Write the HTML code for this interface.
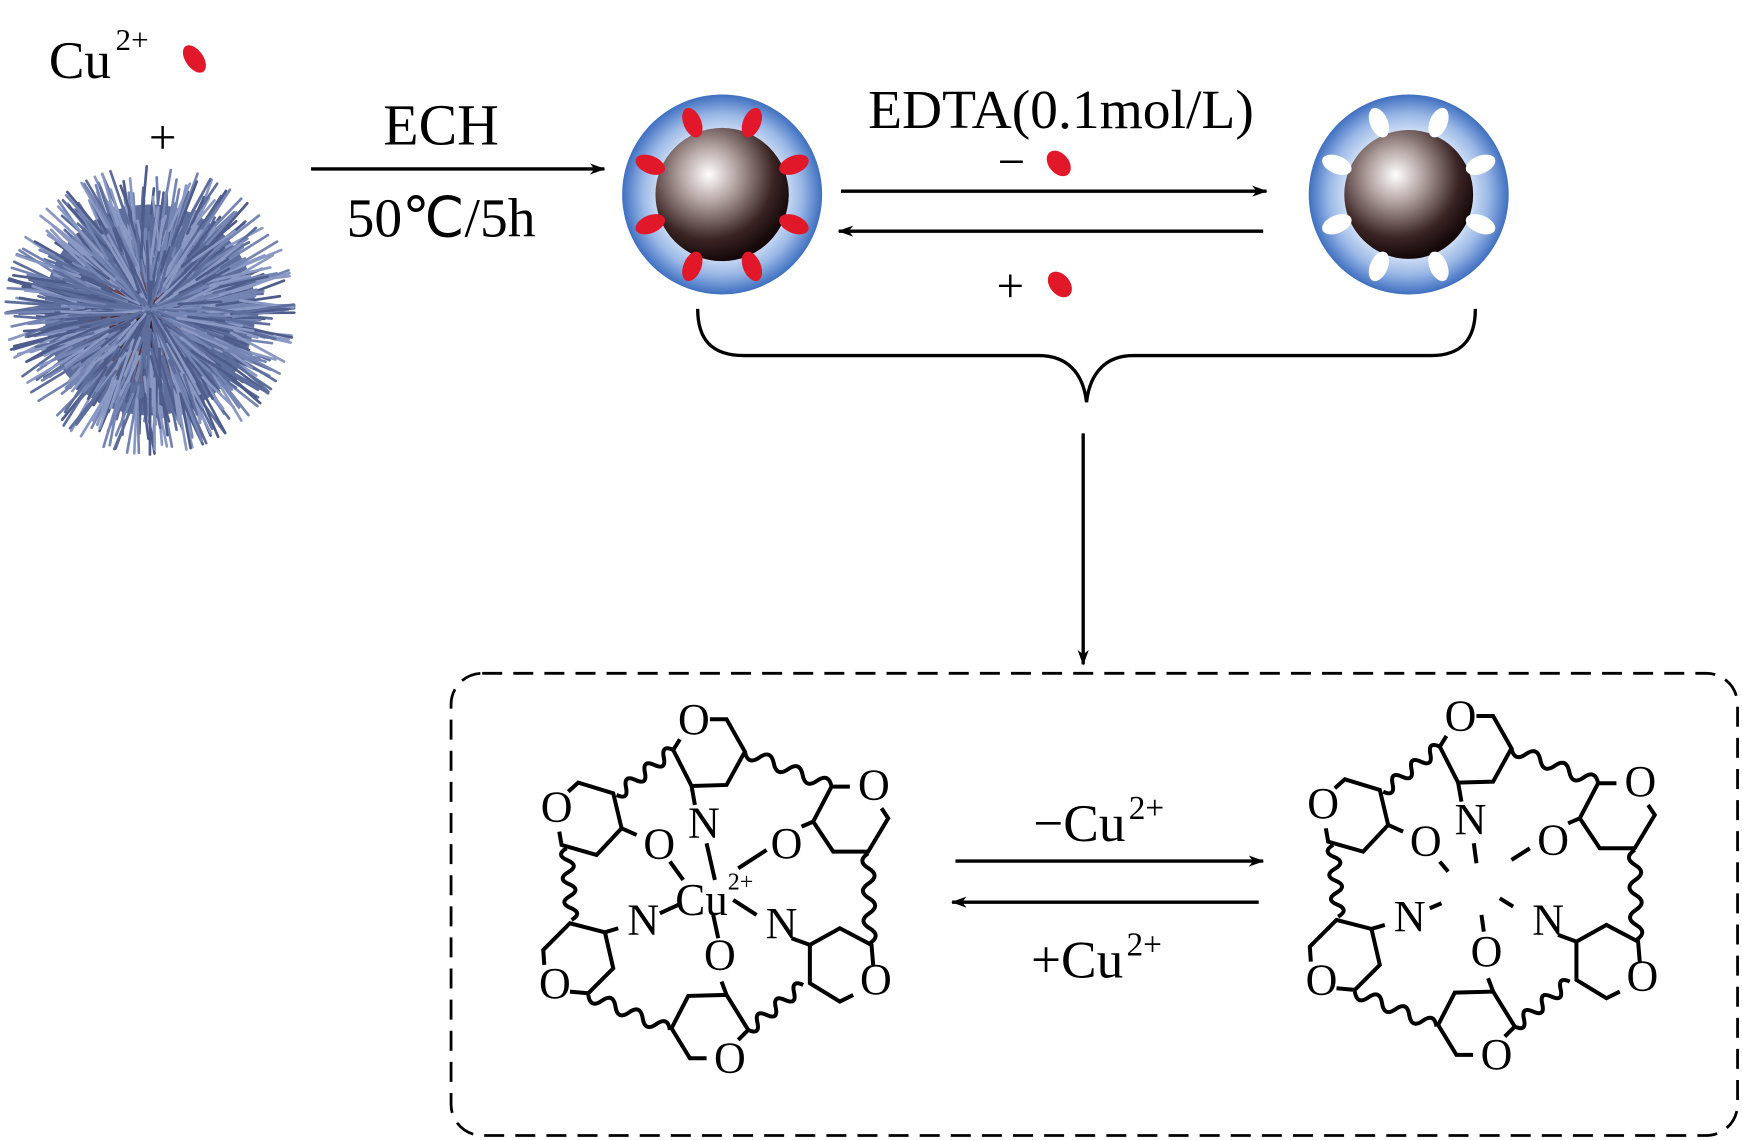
<!DOCTYPE html>
<html><head><meta charset="utf-8"><style>
html,body{margin:0;padding:0;background:#fff}
svg{display:block}
text{font-family:"Liberation Serif",serif;fill:#000}
</style></head><body>
<svg id="s" width="1742" height="1140" viewBox="0 0 1568 1026" xmlns="http://www.w3.org/2000/svg">
<defs>
<radialGradient id="shell" cx="50%" cy="50%" r="50%">
<stop offset="0.55" stop-color="#e8f0fb"/><stop offset="0.8" stop-color="#9ab8e6"/><stop offset="1" stop-color="#3f6fc0"/>
</radialGradient>
<radialGradient id="core" cx="40%" cy="35%" r="65%">
<stop offset="0" stop-color="#ffffff"/><stop offset="0.3" stop-color="#b9aaa8"/><stop offset="0.75" stop-color="#3a2424"/><stop offset="1" stop-color="#150808"/>
</radialGradient>
<radialGradient id="urc" cx="45%" cy="55%" r="50%">
<stop offset="0" stop-color="#2a0e0e"/><stop offset="0.6" stop-color="#6a3a3a"/><stop offset="1" stop-color="#5b6b9b"/>
</radialGradient>
<marker id="ah" markerWidth="14" markerHeight="10" refX="13" refY="5" orient="auto" markerUnits="userSpaceOnUse"><path d="M0,0 L14,5 L0,10 L4,5z" fill="#000"/></marker>
</defs>

<text x="44" y="70" font-size="48">Cu</text>
<text x="104" y="45" font-size="28">2+</text>
<ellipse cx="175" cy="53" rx="8" ry="14" transform="rotate(-35 175 53)" fill="#e0182a"/>
<text x="134" y="138" font-size="44">+</text>

<g id="urchin"><circle cx="135" cy="279" r="95" fill="#5d6d9c"/><circle cx="128" cy="290" r="55" fill="url(#urc)"/></g>

<line x1="280" y1="152" x2="544" y2="152" stroke="#000" stroke-width="3" marker-end="url(#ah)"/>
<text x="397" y="130" font-size="52" text-anchor="middle">ECH</text>
<text x="397" y="213" font-size="50" text-anchor="middle">50℃/5h</text>

<circle cx="650" cy="175" r="90" fill="url(#shell)"/>
<circle cx="650" cy="175" r="60" fill="url(#core)"/>
<g id="drops1"></g>
<circle cx="1268" cy="175" r="90" fill="url(#shell)"/>
<circle cx="1268" cy="175" r="58" fill="url(#core)"/>
<g id="drops2"></g>

<text x="955" y="115" font-size="50" text-anchor="middle">EDTA(0.1mol/L)</text>
<text x="898" y="160" font-size="44">−</text>
<ellipse cx="953" cy="147" rx="9" ry="13" transform="rotate(-40 953 147)" fill="#e0182a"/>
<line x1="757" y1="172" x2="1140" y2="172" stroke="#000" stroke-width="3" marker-end="url(#ah)"/>
<line x1="1137" y1="208" x2="755" y2="208" stroke="#000" stroke-width="3" marker-end="url(#ah)"/>
<text x="897" y="272" font-size="44">+</text>
<ellipse cx="954" cy="256" rx="9" ry="13" transform="rotate(-40 954 256)" fill="#e0182a"/>

<path d="M628,278 C628,305 640,320 670,320 L935,320 C960,320 975,335 978,362 C981,335 996,320 1020,320 L1288,320 C1316,320 1328,305 1328,278" fill="none" stroke="#000" stroke-width="3"/>
<line x1="975" y1="390" x2="975" y2="598" stroke="#000" stroke-width="3" marker-end="url(#ah)"/>

<rect x="406" y="606" width="1158" height="416" rx="28" fill="none" stroke="#000" stroke-width="2.5" stroke-dasharray="18 10"/>

<line x1="860" y1="775" x2="1137" y2="775" stroke="#000" stroke-width="3" marker-end="url(#ah)"/>
<line x1="1133" y1="812" x2="857" y2="812" stroke="#000" stroke-width="3" marker-end="url(#ah)"/>
<text x="930" y="757" font-size="48">−Cu</text>
<text x="1016" y="737" font-size="30">2+</text>
<text x="928" y="880" font-size="48">+Cu</text>
<text x="1014" y="860" font-size="30">2+</text>

<g id="m1" transform="scale(0.9) translate(500,680) scale(0.3333)"></g>
<g id="m2" transform="translate(690,-3) scale(0.9) translate(500,680) scale(0.3333)"></g>
</svg>
<script>
var NS="http://www.w3.org/2000/svg";
function el(p,tag,a,txt){var e=document.createElementNS(NS,tag);for(var k in a)e.setAttribute(k,a[k]);if(txt)e.textContent=txt;p.appendChild(e);return e;}
var u=document.getElementById('urchin');
var seed=7;function rnd(){seed=(seed*9301+49297)%233280;return seed/233280;}
for(var i=0;i<800;i++){var a=rnd()*Math.PI*2;var r0=rnd()*85;var r1=Math.min(130,r0+30+rnd()*40);
 var cx=135,cy=279;var t=a+(rnd()-0.5)*0.5;
 var ox=cx+Math.cos(a)*r0,oy=cy+Math.sin(a)*r0;
 var c=['#5d6d9c','#7585b3','#4d5c8a','#8a98c4'][i%4];
 el(u,'line',{x1:ox,y1:oy,x2:ox+Math.cos(t)*(r1-r0),y2:oy+Math.sin(t)*(r1-r0),stroke:c,'stroke-width':2.4,'stroke-linecap':'round'});}
function drops(id,cx,cy,col){var g=document.getElementById(id);
 for(var i=0;i<8;i++){var a=i*Math.PI/4+Math.PI/8;var x=cx+Math.cos(a)*70,y=cy+Math.sin(a)*70;
 el(g,'ellipse',{cx:x,cy:y,rx:8,ry:14,fill:col,transform:'rotate('+(a*180/Math.PI+90)+' '+x+' '+y+')'});}}
drops('drops1',650,175,'#e0182a');drops('drops2',1268,175,'#ffffff');
function wave(x1,y1,x2,y2,n,amp){var dx=(x2-x1)/n,dy=(y2-y1)/n,L=Math.hypot(x2-x1,y2-y1),px=-(y2-y1)/L*amp,py=(x2-x1)/L*amp;
 var d='M'+x1+','+y1;for(var i=0;i<n;i++){var s=(i%2?-1:1);var mx=x1+dx*(i+0.5)+px*s*2,my=y1+dy*(i+0.5)+py*s*2;d+=' Q'+mx+','+my+' '+(x1+dx*(i+1))+','+(y1+dy*(i+1));}return d;}
function mol(id,cu){var g=document.getElementById(id);
 var st={fill:'none',stroke:'#000','stroke-width':12,'stroke-linejoin':'miter'};
 function P(d){var a=Object.assign({d:d},st);el(g,'path',a);}
 function T(x,y,t,s){el(g,'text',{x:x,y:y,'font-size':s||132,'text-anchor':'middle'},t);}
 P('M630,118 L680,118 L735,215 L680,315 L575,318 L520,210 L540,178');T(582,162,'O');
 P('M575,318 L585,375');T(612,472,'N');
 P('M205,335 L235,308 L340,340 L365,445 L290,525 L185,495 L178,455');T(170,424,'O');
 P('M365,445 L410,465');T(478,536,'O');
 P('M1050,320 L995,320 L940,425 L1000,515 L1105,515 L1165,415 L1145,385');T(1122,358,'O');
 P('M940,425 L905,440');T(860,534,'O');
 P('M355,745 L315,757 L210,730 L130,810 L133,855');T(165,954,'O');P('M210,935 L265,940 L340,865 L315,757');
 T(430,764,'N');
 T(845,774,'N');P('M875,775 L930,795');
 P('M930,795 L1020,745 L1115,795 L1120,855');T(1128,942,'O');P('M1060,945 L1020,965 L930,910 L930,795');
 T(660,868,'O');
 P('M665,905 L680,945 L565,948 L515,1045 L570,1135 L620,1135');T(690,1178,'O');P('M715,1080 L745,1050 L680,945');
 P(wave(520,210,350,345,6,18));P(wave(735,215,995,320,6,18));P(wave(200,505,215,720,6,18));
 P(wave(265,945,510,1050,6,18));P(wave(745,1050,910,915,6,18));P(wave(1105,520,1110,790,6,18));
 if(cu){T(605,705,'Cu',135);T(722,628,'2+',72);
  P('M620,490 L645,600');P('M510,545 L550,600');P('M800,510 L715,565');P('M480,700 L545,670');P('M700,660 L770,705');P('M640,705 L655,775');}
 else{P('M622,500 L630,560');P('M520,555 L545,585');P('M790,515 L735,550');P('M490,695 L525,680');P('M700,665 L740,690');P('M645,715 L652,765');}
}
mol('m1',true);mol('m2',false);
</script>
</body></html>
